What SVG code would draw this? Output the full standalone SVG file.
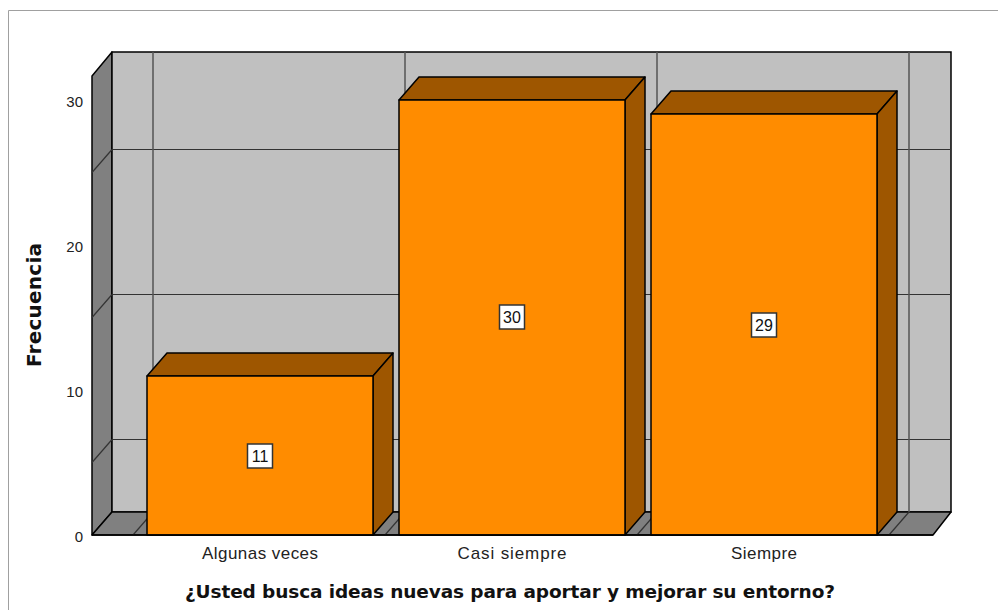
<svg xmlns="http://www.w3.org/2000/svg" width="998" height="610" viewBox="0 0 998 610">
<style>
.wall{fill:#808080;stroke:#000;stroke-width:1.5;stroke-linejoin:round}
.back{fill:#C0C0C0;stroke:#000;stroke-width:1.5}
.grid{stroke:#333;stroke-width:1.2;fill:none}
.vgrid{stroke:#555;stroke-width:1.5;fill:none}
.front{fill:#FF8C00;stroke:#000;stroke-width:1.5;stroke-linejoin:round}
.side{fill:#9E5600;stroke:#000;stroke-width:1.5;stroke-linejoin:round}
.tick{font-family:"Liberation Sans",Arial,sans-serif;font-size:15px;fill:#222;text-anchor:end}
.cat{font-family:"Liberation Sans",Arial,sans-serif;font-size:17px;fill:#222;text-anchor:middle}
.ttl{font-family:"DejaVu Sans",Verdana,sans-serif;font-weight:bold;font-size:18.5px;fill:#111;text-anchor:middle}
.lblbox{fill:#fff;stroke:#333;stroke-width:1.5}
.lbl{font-family:"Liberation Sans",Arial,sans-serif;font-size:16px;fill:#111;text-anchor:middle}
</style>
<rect x="0" y="0" width="998" height="610" fill="#fff"/>
<path d="M8.5 610 V10.5 H998" fill="none" stroke="#a0a0a0" stroke-width="1"/>
<g id="frame">
<polygon class="wall" points="92,76 112,52 112,512 92,535"/>
<rect class="back" x="112" y="52" width="839" height="460"/>
<polygon class="wall" points="92,535 112,512 951,512 933,535"/>
</g>
<g id="grid">
<line class="grid" x1="112" y1="439.5" x2="951" y2="439.5"/>
<line class="grid" x1="112" y1="294.5" x2="951" y2="294.5"/>
<line class="grid" x1="112" y1="149.5" x2="951" y2="149.5"/>
<line class="grid" x1="92" y1="462.5" x2="112" y2="439.5"/>
<line class="grid" x1="92" y1="317.5" x2="112" y2="294.5"/>
<line class="grid" x1="92" y1="172.5" x2="112" y2="149.5"/>
<line class="vgrid" x1="153" y1="52" x2="153" y2="512"/>
<line class="vgrid" x1="405" y1="52" x2="405" y2="512"/>
<line class="vgrid" x1="657" y1="52" x2="657" y2="512"/>
<line class="vgrid" x1="909" y1="52" x2="909" y2="512"/>
<line class="grid" x1="153" y1="512" x2="133" y2="535"/>
<line class="grid" x1="405" y1="512" x2="385" y2="535"/>
<line class="grid" x1="657" y1="512" x2="637" y2="535"/>
<line class="grid" x1="909" y1="512" x2="889" y2="535"/>
</g>
<g id="bar-algunas">
<polygon class="side" points="147,376 167,353 393,353 373,376"/>
<polygon class="side" points="373,376 393,353 393,512 373,535"/>
<rect class="front" x="147" y="376" width="226" height="159"/>
<rect class="lblbox" x="247.5" y="444" width="25" height="24"/>
<text class="lbl" x="260" y="461.5">11</text>
</g>
<g id="bar-casi">
<polygon class="side" points="399,100 419,77 645,77 625,100"/>
<polygon class="side" points="625,100 645,77 645,512 625,535"/>
<rect class="front" x="399" y="100" width="226" height="435"/>
<rect class="lblbox" x="499.5" y="305" width="25" height="24"/>
<text class="lbl" x="512" y="322.5">30</text>
</g>
<g id="bar-siempre">
<polygon class="side" points="651,114 671,91 897,91 877,114"/>
<polygon class="side" points="877,114 897,91 897,512 877,535"/>
<rect class="front" x="651" y="114" width="226" height="421"/>
<rect class="lblbox" x="751.5" y="313" width="25" height="24"/>
<text class="lbl" x="764" y="330.5">29</text>
</g>
<g id="axes">
<line x1="92" y1="535" x2="933" y2="535" stroke="#000" stroke-width="1.5"/>
<text class="tick" x="83" y="107">30</text>
<text class="tick" x="83" y="252">20</text>
<text class="tick" x="83" y="397">10</text>
<text class="tick" x="83" y="542">0</text>
<text class="cat" x="260" y="559" textLength="116">Algunas veces</text>
<text class="cat" x="512" y="559" textLength="109">Casi siempre</text>
<text class="cat" x="764" y="559" textLength="66">Siempre</text>
<text class="ttl" x="510" y="598" textLength="650">¿Usted busca ideas nuevas para aportar y mejorar su entorno?</text>
<text class="ttl" transform="translate(41 305) rotate(-90)" style="font-size:20px" textLength="124">Frecuencia</text>
</g>
</svg>
